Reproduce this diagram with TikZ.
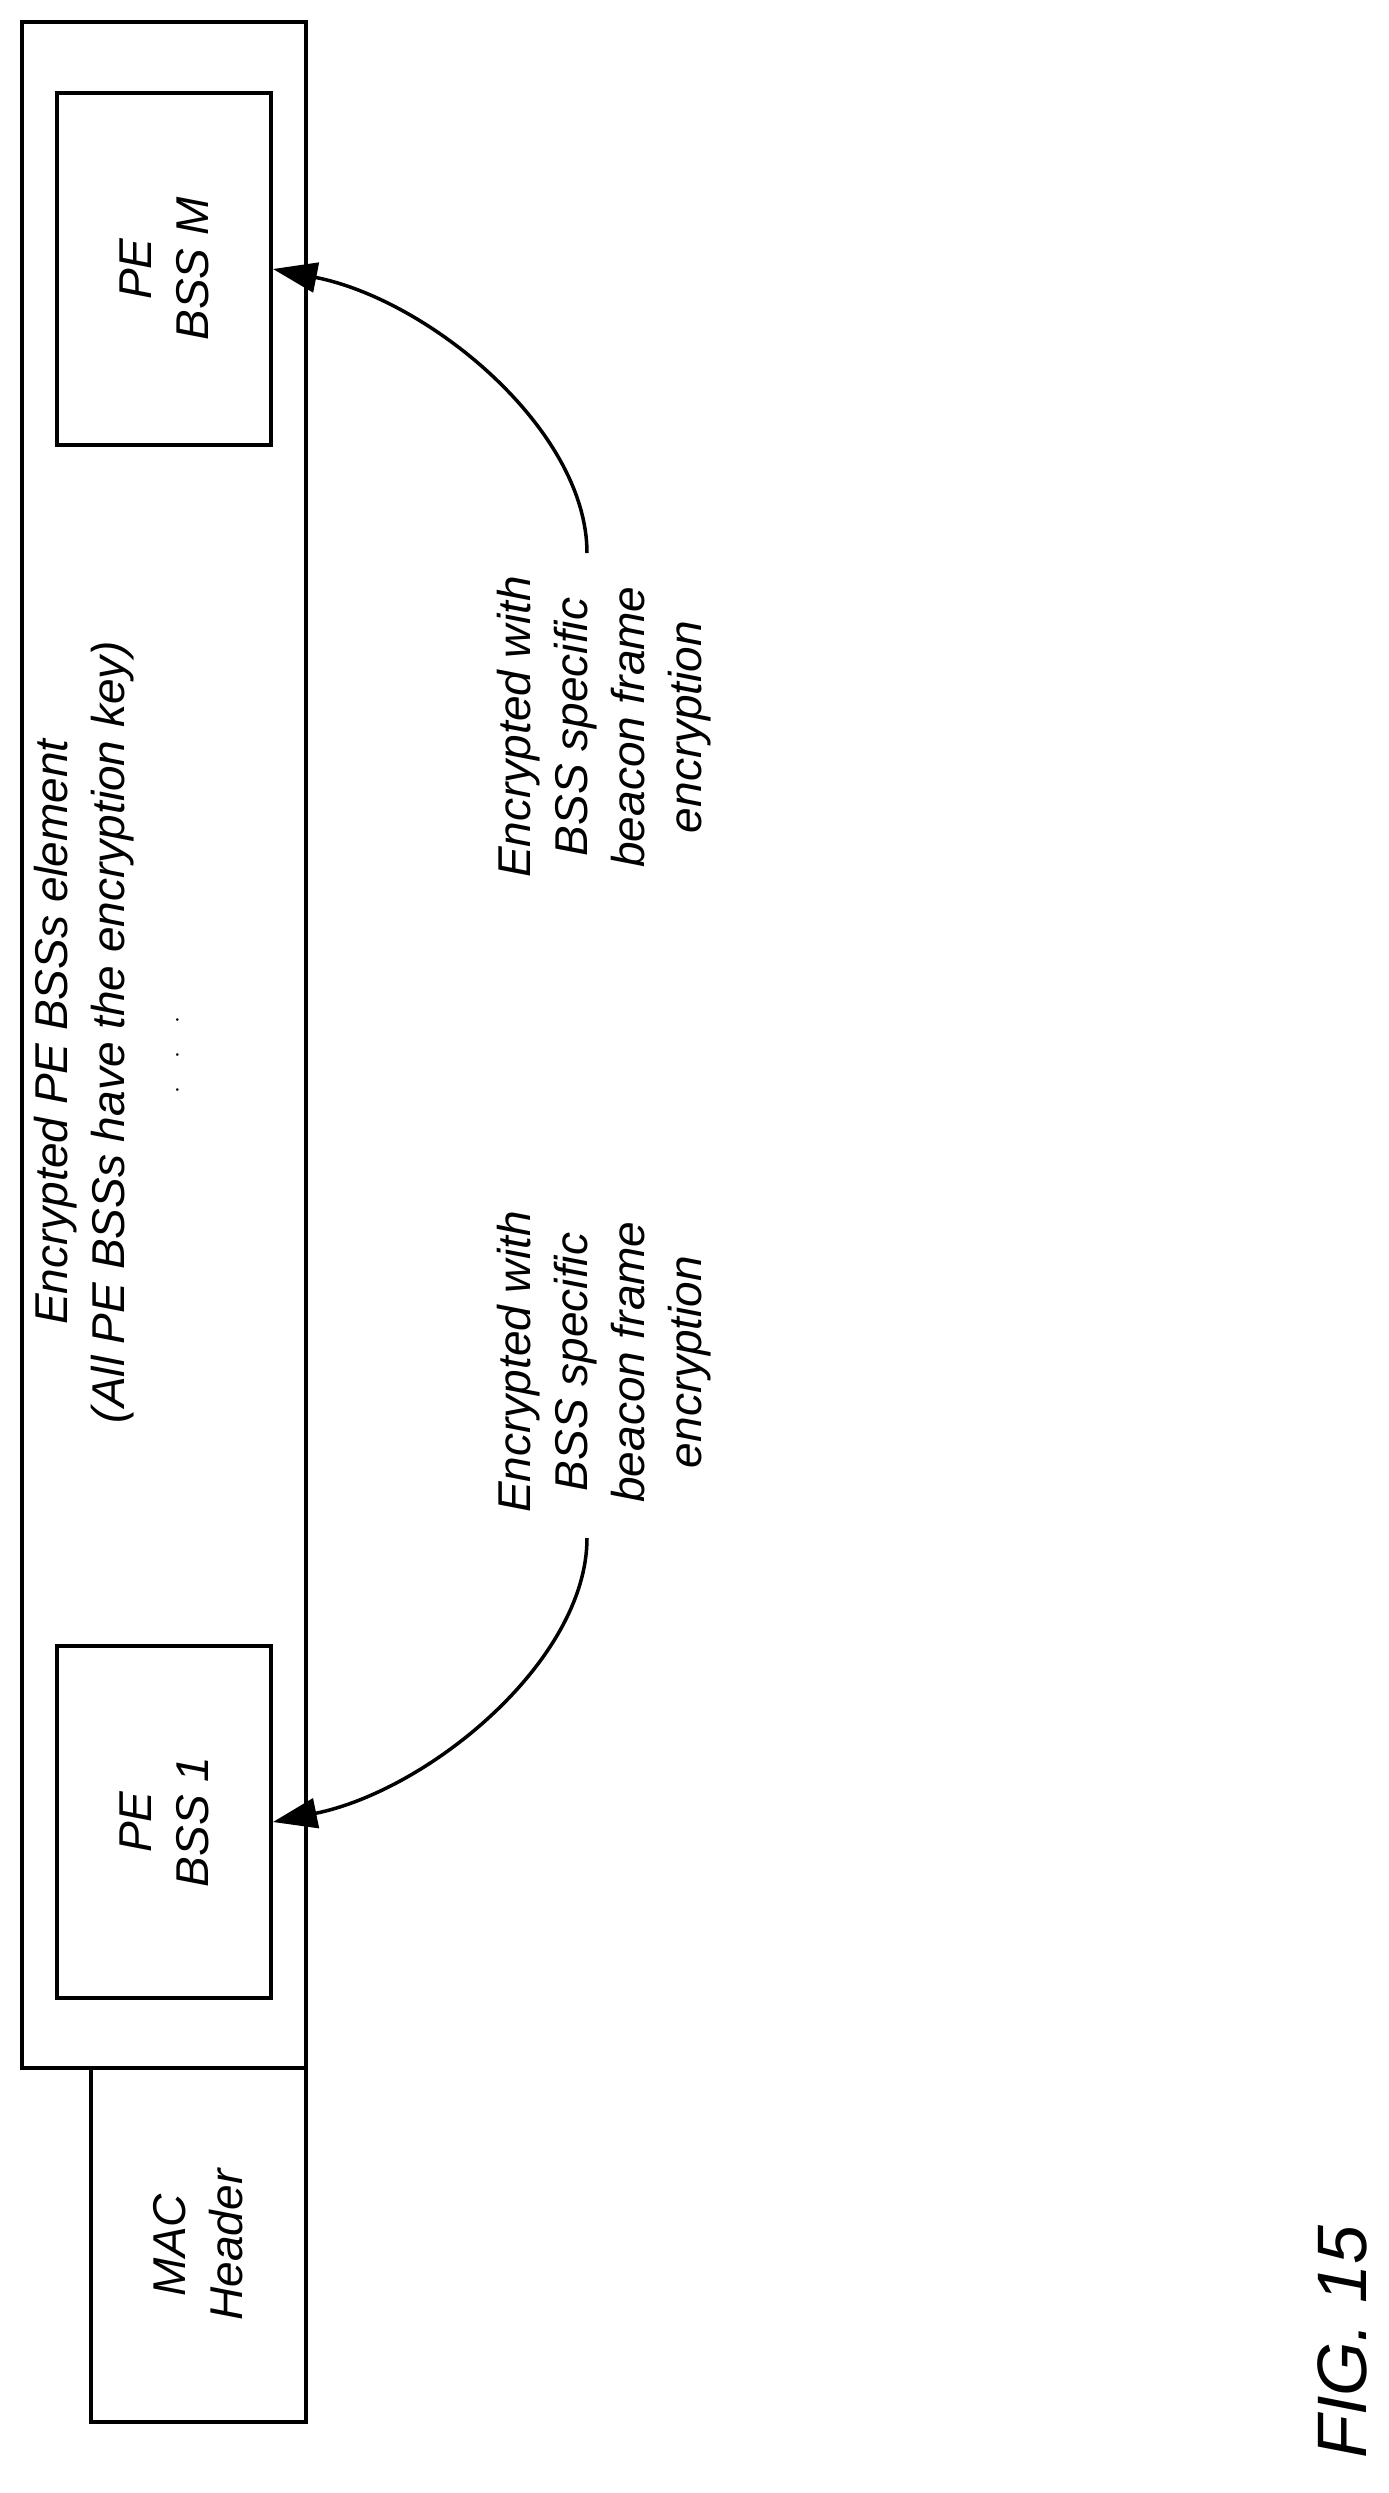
\documentclass[tikz,border=0pt]{standalone}
\usepackage{fontspec}
\setmainfont{Liberation Sans}
\usetikzlibrary{arrows.meta, positioning}
\tikzset{
	frame/.style = {draw, line width=4pt, rectangle, inner sep=0pt},
	txt/.style = {rotate=90, align=center, font=\fontsize{46}{57}\selectfont\itshape},
	arrow/.style = {-{Triangle[length=44pt, width=30pt]}, line width=3.5pt},
}

\begin{document}
\begin{tikzpicture}[x=1pt, y=-1pt]
			\useasboundingbox (0,0) rectangle (1389,2493);
			
			% Frame
			\node[frame, minimum width=284pt, minimum height=2046pt] (elem) at (164,1045) {};
			\node[frame, txt, minimum width=354pt, minimum height=215pt] (mac) at (198.5,2245) {MAC\\Header};
			
			% PE BSS boxes
			\node[frame, txt, minimum width=352pt, minimum height=214pt] (bssM) at (164,269) {PE\\BSS M};
			\node[frame, txt, minimum width=352pt, minimum height=214pt] (bss1) at (164,1822) {PE\\BSS 1};
			
			% Texts
			\node[txt] (title) at (84,1032) {Encrypted PE BSSs element\\(All PE BSSs have the encryption key)};
			\node[txt] (dots) at (178,1055) {$\cdot$\hspace{28pt}$\cdot$\hspace{28pt}$\cdot$};
			\node[txt] (encM) at (604,727) {Encrypted with\\BSS specific\\beacon frame\\encryption};
			\node[txt] (enc1) at (604,1362) {Encrypted with\\BSS specific\\beacon frame\\encryption};
			\node[rotate=90, font=\fontsize{70}{80}\selectfont\itshape] (fig) at (1342,2342) {FIG. 15};
			
			% Connections
			\coordinate (tailM) at (587,553);
			\coordinate (tail1) at (587,1538);
			\draw[arrow] (tailM) .. controls (587,430) and (430,300) .. (bssM.south);
			\draw[arrow] (tail1) .. controls (587,1660) and (430,1790) .. (bss1.south);
			
\end{tikzpicture}
\end{document}
